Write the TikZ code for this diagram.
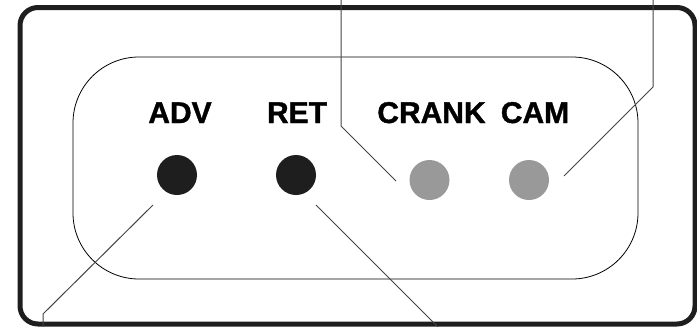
\documentclass[tikz,border=0pt]{standalone}
\usepackage{fontspec}
\setmainfont{Liberation Sans}
\newfontfamily\tagfont{Liberation Sans}[BoldFeatures={FakeBold=1.2}]
\usepackage{tikz}
\usepackage{circuitikz}

\definecolor{frame}{HTML}{1E1E1E}
\definecolor{ledon}{HTML}{1E1E1E}
\definecolor{ledoff}{HTML}{999999}
\definecolor{lead}{HTML}{444444}

\tikzset{
  led/.style={circle, inner sep=0pt, minimum size=40pt},
  tag/.style={anchor=base, font=\tagfont\bfseries\fontsize{30}{36}\selectfont},
  leader/.style={lead, line width=1pt}
}

\begin{document}
\begin{tikzpicture}[x=1pt, y=-1pt]

\useasboundingbox (0,0) rectangle (697,327);

\draw[frame, line width=5pt, rounded corners=18pt] (20,7.5) rectangle (695,324);
\draw[line width=0.8pt, rounded corners=66pt] (73,57) rectangle (638,279);

\node[tag] (adv) at (180,123) {ADV};
\node[tag] (ret) at (297,123) {RET};
\node[tag] (crank) at (431.5,123) {CRANK};
\node[tag] (cam) at (535,123) {CAM};

\node[led, fill=ledon] (advled) at (177,175) {};
\node[led, fill=ledon] (retled) at (296,175) {};
\node[led, fill=ledoff] (crankled) at (429.5,180) {};
\node[led, fill=ledoff] (camled) at (529,180) {};

\coordinate (A1) at (153,205);
\coordinate (A2) at (43,314);
\coordinate (A3) at (43,327);
\coordinate (R1) at (316,205);
\coordinate (R2) at (438,327);
\coordinate (K1) at (396,181);
\coordinate (K2) at (341,126);
\coordinate (K3) at (341,0);
\coordinate (C1) at (564,176);
\coordinate (C2) at (653,87);
\coordinate (C3) at (653,0);

\draw[leader] (A1)
to[short] (A2)
to[short] (A3);

\draw[leader] (R1)
to[short] (R2);

\draw[leader] (K1)
to[short] (K2)
to[short] (K3);

\draw[leader] (C1)
to[short] (C2)
to[short] (C3);

\end{tikzpicture}
\end{document}
